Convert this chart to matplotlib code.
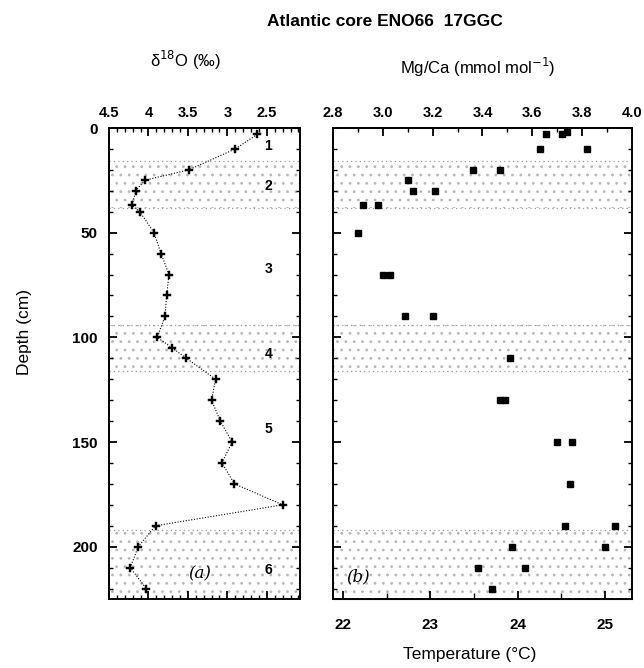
import matplotlib
matplotlib.use('Agg')
import matplotlib.pyplot as plt
from matplotlib.ticker import MultipleLocator

plt.rcParams['font.family'] = ['Liberation Sans', 'DejaVu Sans']
plt.rcParams['hatch.linewidth'] = 0.8

# ---- data ----
d18o_depth = [3, 10, 20, 25, 30, 37, 40, 50, 60, 70, 80, 90, 100, 105, 110,
              120, 130, 140, 150, 160, 170, 180, 190, 200, 210, 220]
d18o = [2.62, 2.90, 3.49, 4.05, 4.16, 4.21, 4.11, 3.93, 3.84, 3.74, 3.77, 3.79,
        3.89, 3.70, 3.52, 3.15, 3.20, 3.09, 2.94, 3.07, 2.91, 2.30, 3.91, 4.13,
        4.23, 4.03]

mgca_depth = [3, 3, 2, 10, 10, 20, 20, 25, 30, 30, 37, 37, 50, 70, 70, 90, 90,
              110, 130, 130, 150, 150, 170, 190, 190, 200, 200, 210, 210, 220]
mgca = [3.655, 3.72, 3.74, 3.63, 3.82, 3.36, 3.47, 3.10, 3.12, 3.21, 2.92, 2.98,
        2.90, 3.00, 3.03, 3.09, 3.20, 3.51, 3.47, 3.49, 3.70, 3.76, 3.75, 3.73,
        3.93, 3.52, 3.89, 3.38, 3.57, 3.44]

zones = [(16, 38), (94, 116), (192, 225)]
zone_labels = ['1', '2', '3', '4', '5', '6']
zone_label_depth = [8.5, 27.5, 67.5, 108, 144, 211]

# temperature <-> Mg/Ca scale (linear)
T0, T1 = 21.885, 25.31
M0, M1 = 2.8, 4.0
def m2t(m):
    return T0 + (m - M0) * (T1 - T0) / (M1 - M0)
def t2m(t):
    return M0 + (t - T0) * (M1 - M0) / (T1 - T0)

W, H = 644, 668
fig = plt.figure(figsize=(W / 100, H / 100), dpi=100)

top, bot = 128, 599
axa = fig.add_axes([109 / W, 1 - bot / H, (300 - 109) / W, (bot - top) / H])
axb = fig.add_axes([333 / W, 1 - bot / H, (632 - 333) / W, (bot - top) / H])

tickfont = dict(fontsize=10.5, fontweight='bold')

for ax in (axa, axb):
    ax.set_ylim(225, 0)
    for lo, hi in zones:
        ax.axhspan(lo, hi, facecolor='none', edgecolor='#b8b8b8', hatch='..',
                   linewidth=0, zorder=0)
        for yy in (lo, hi):
            if yy < 225:
                ax.axhline(yy, color='#9a9a9a', lw=0.9, ls=(0, (1, 2.5)), zorder=0)
    ax.yaxis.set_major_locator(MultipleLocator(50))
    ax.yaxis.set_minor_locator(MultipleLocator(10))
    for s in ax.spines.values():
        s.set_linewidth(1.4)
    ax.tick_params(axis='both', which='major', direction='in', length=6, width=1.3,
                   left=True, right=True)
    ax.tick_params(axis='both', which='minor', direction='in', length=3, width=1.0,
                   left=True, right=True)

# ---- panel (a) ----
axa.set_xlim(4.5, 2.08)
axa.xaxis.set_major_locator(MultipleLocator(0.5))
axa.xaxis.set_minor_locator(MultipleLocator(0.1))
axa.tick_params(axis='x', which='both', top=True, bottom=True,
                labeltop=True, labelbottom=False, pad=6)
axa.set_xticks([4.5, 4.0, 3.5, 3.0, 2.5])
axa.set_xticklabels(['4.5', '4', '3.5', '3', '2.5'], **tickfont)
axa.set_yticks([0, 50, 100, 150, 200])
axa.set_yticklabels(['0', '50', '100', '150', '200'], fontsize=11, fontweight='bold')
axa.tick_params(axis='y', pad=8)
axa.plot(d18o, d18o_depth, color='black', lw=0.8, ls=(0, (1, 1.5)),
         marker='P', ms=5.5, mfc='black', mec='black', mew=0.3)
for lab, dep in zip(zone_labels, zone_label_depth):
    axa.text(2.48, dep, lab, fontsize=10, fontweight='bold', ha='center', va='center')
axa.text(3.35, 213, '(a)', fontsize=12, fontstyle='italic', family='DejaVu Serif',
         ha='center', va='center')

# ---- panel (b) ----
axb.set_xlim(M0, M1)
axb.xaxis.set_major_locator(MultipleLocator(0.2))
axb.xaxis.set_minor_locator(MultipleLocator(0.1))
axb.tick_params(axis='x', which='both', top=True, bottom=False,
                labeltop=True, labelbottom=False, pad=6)
axb.set_xticks([2.8, 3.0, 3.2, 3.4, 3.6, 3.8, 4.0])
axb.set_xticklabels(['2.8', '3.0', '3.2', '3.4', '3.6', '3.8', '4.0'], **tickfont)
axb.tick_params(axis='y', labelleft=False)
sec = axb.secondary_xaxis('bottom', functions=(m2t, t2m))
sec.xaxis.set_major_locator(MultipleLocator(1))
sec.xaxis.set_minor_locator(MultipleLocator(0.5))
sec.tick_params(axis='x', which='major', direction='in', length=6, width=1.3, pad=14)
sec.tick_params(axis='x', which='minor', direction='in', length=4, width=1.0)
sec.set_xticks([22, 23, 24, 25])
sec.set_xticklabels(['22', '23', '24', '25'], fontsize=11, fontweight='bold')
axb.plot(mgca, mgca_depth, ls='none', marker='s', ms=5, mfc='black', mec='black')
axb.text(2.9, 214.5, '(b)', fontsize=12, fontstyle='italic', family='DejaVu Serif',
         ha='center', va='center')

# ---- texts ----
fig.text(385 / W, 1 - 22 / H, 'Atlantic core ENO66  17GGC', fontsize=12.5,
         fontweight='bold', ha='center', va='center')
fig.text(185 / W, 1 - 60 / H, 'δ$^{18}$O (‰)', fontsize=12,
         ha='center', va='center')
fig.text(478 / W, 1 - 67 / H, 'Mg/Ca (mmol mol$^{-1}$)', fontsize=12,
         ha='center', va='center')
fig.text(25 / W, 1 - 332 / H, 'Depth (cm)', fontsize=12.5, rotation=90,
         ha='center', va='center')
fig.text(470 / W, 1 - 655 / H, 'Temperature (°C)', fontsize=12.5,
         ha='center', va='center')

fig.savefig('out.png', dpi=100)
